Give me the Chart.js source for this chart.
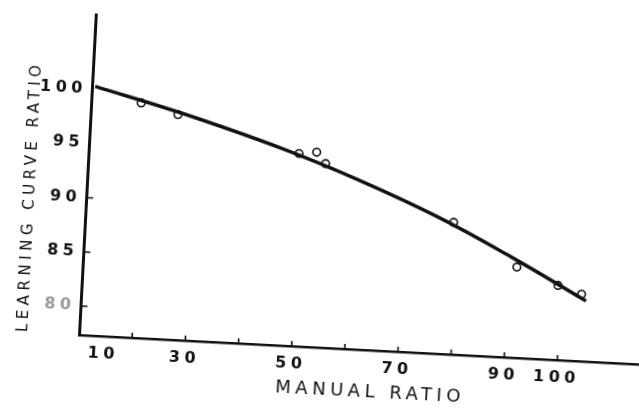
<!DOCTYPE html>
<html>
<head>
<meta charset="utf-8">
<script src="https://cdn.jsdelivr.net/npm/chart.js@4.4.1/dist/chart.umd.min.js"></script>
<style>
  html, body { margin: 0; padding: 0; background: #fff; overflow: hidden; width: 639px; height: 411px; }
  /* the scanned figure sits about 3 degrees clockwise on the page */
  #wrap { position: absolute; left: 0; top: 0; width: 672px; height: 411px;
          transform-origin: 79px 335px; transform: rotate(3deg); }
</style>
</head>
<body>
<div id="wrap"><canvas id="chart" width="672" height="411"></canvas></div>
<script>
// axis ticks
const xTicks = [10, 20, 30, 40, 50, 60, 70, 80, 90, 100];
const xLabels = [10, 30, 50, 70, 90, 100];
const yTicks = [80, 85, 90, 95, 100];
const yMarked = [80, 85, 90];

// observed points (open circles)
const obsX = [19.4, 26.4, 49.5, 52.8, 54.6, 79.2, 91.5, 99.4, 103.9];
const obsY = [99.0, 98.1, 95.1, 95.3, 94.3, 89.5, 85.7, 84.2, 83.5];

// fitted curve
const fitX = [10.6, 26.7, 46.1, 61.2, 76.3, 90.3, 104.8];
const fitY = [100.3, 98.3, 95.5, 92.9, 89.9, 86.6, 82.9];

const INK = '#111';
Chart.defaults.font.family = "'DejaVu Sans', sans-serif";
Chart.defaults.color = INK;

// letter spacing for the hand-lettered look + tick marks drawn inside the axes
const lettering = {
  id: 'lettering',
  beforeDraw(chart) { chart.ctx.letterSpacing = '4.5px'; },
  afterDraw(chart) {
    const {ctx, scales: {x, y}, chartArea: a} = chart;
    ctx.save();
    ctx.strokeStyle = INK;
    ctx.lineWidth = 1.6;
    ctx.beginPath();
    xTicks.forEach((v) => {
      if (v === xTicks[0]) return;
      const px = x.getPixelForValue(v);
      ctx.moveTo(px, a.bottom);
      ctx.lineTo(px, a.bottom - 5);
    });
    yMarked.forEach((v) => {
      const py = y.getPixelForValue(v);
      ctx.moveTo(a.left, py);
      ctx.lineTo(a.left + 7, py);
    });
    ctx.stroke();
    ctx.restore();
  },
};

new Chart(document.getElementById('chart'), {
  type: 'scatter',
  data: {
    datasets: [
      {
        type: 'line',
        data: fitX.map((x, i) => ({x, y: fitY[i]})),
        borderColor: INK,
        borderWidth: 3.5,
        pointRadius: 0,
        tension: 0.4,
        fill: false,
        order: 0,
      },
      {
        data: obsX.map((x, i) => ({x, y: obsY[i]})),
        pointRadius: 3.8,
        pointBackgroundColor: '#fff',
        pointBorderColor: INK,
        pointBorderWidth: 1.6,
        order: 1,
      },
    ],
  },
  options: {
    responsive: false,
    animation: false,
    devicePixelRatio: 1,
    layout: { padding: { top: 4, left: 0, right: 0, bottom: 0 } },
    plugins: { legend: { display: false }, tooltip: { enabled: false } },
    scales: {
      x: {
        type: 'linear', min: 10, max: 120.37,
        afterFit(s) { s.height = 76; },
        afterBuildTicks(s) { s.ticks = xTicks.map((v) => ({value: v})); },
        grid: { display: false, drawTicks: false },
        border: { display: true, color: INK, width: 2.5 },
        ticks: {
          autoSkip: false, maxRotation: 0, minRotation: 0, padding: 8,
          font: { size: 16, weight: 'bold' },
          // the printed "10" sits a little right of the corner
          callback: (v) => (v === 10 ? '     10' : xLabels.includes(v) ? String(v) : ''),
        },
        title: {
          display: true, text: 'MANUAL RATIO',
          font: { size: 18 }, padding: { top: 0, bottom: 23 },
        },
      },
      y: {
        type: 'linear', min: 77.32, max: 106.875,
        afterFit(s) { s.width = 79; },
        afterBuildTicks(s) { s.ticks = yTicks.map((v) => ({value: v})); },
        grid: { display: false, drawTicks: false },
        border: { display: true, color: INK, width: 3 },
        ticks: {
          padding: 5,
          font: { size: 16, weight: 'bold' },
          color: (c) => (c.tick && c.tick.value === 80 ? '#9a9a9a' : INK),
        },
        title: {
          display: true, text: 'LEARNING CURVE RATIO', align: 'start',
          font: { size: 15 }, padding: { top: 14 },
        },
      },
    },
  },
  plugins: [lettering],
});
</script>
</body>
</html>
